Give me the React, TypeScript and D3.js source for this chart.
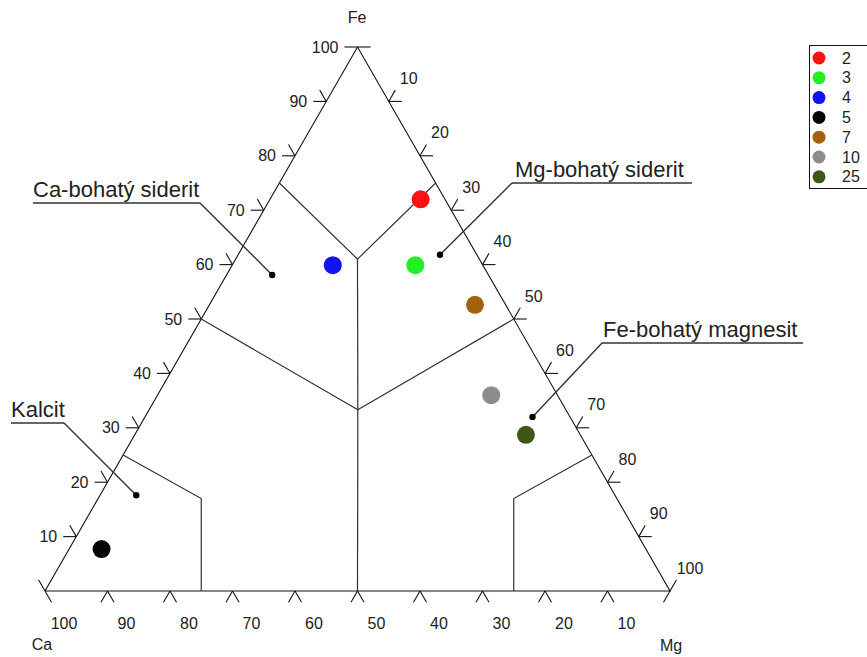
import * as d3 from 'd3';

// samples (legend labels) and their compositions in % (Ca, Fe, Mg)
const samples = ['2', '3', '4', '5', '7', '10', '25'];
const caValues = [3.9, 10.8, 24, 87.1, 4.9, 10.6, 8.7];
const feValues = [72, 59.9, 59.9, 7.7, 52.6, 36, 28.7];
const mgValues = [24.1, 29.3, 16.1, 5.2, 42.5, 53.4, 62.6];
const sampleColors = ['#ff1212', '#22f022', '#1212f0', '#050505', '#a3600f', '#8c8c8c', '#3f5714'];

const tickValues = [10, 20, 30, 40, 50, 60, 70, 80, 90, 100];

// field boundaries as polylines of [Ca, Fe, Mg]
const fieldLines: number[][][] = [
  [[33.3, 33.3, 33.4], [50, 50, 0]],
  [[33.3, 33.3, 33.4], [0, 50, 50]],
  [[33.3, 33.3, 33.4], [50, 0, 50]],
  [[33.3, 33.3, 33.4], [19.5, 61, 19.5]],
  [[25, 75, 0], [19.5, 61, 19.5], [0, 75, 25]],
  [[75, 25, 0], [66.5, 17, 16.5], [75, 0, 25]],
  [[0, 25, 75], [16.5, 17, 66.5], [25, 0, 75]],
];

// field names with the composition their leader points to
const fieldNames = ['Ca-bohatý siderit', 'Mg-bohatý siderit', 'Fe-bohatý magnesit', 'Kalcit'];
const fieldTargets = [[34.6, 58.1, 7.3], [5.9, 61.8, 32.3], [6, 32, 62], [76.6, 17.6, 5.8]];
// label placement: [text x, underline y, underline x1, underline x2, leader start x]
const fieldLabelPos = [
  [33, 203, 33, 200, 200],
  [515, 183, 512, 692, 512],
  [603, 343, 602, 803, 602],
  [11, 423, 11, 64, 64],
];

const width = 867;
const height = 657;
const tickLen = 13;

const xScale = d3.scaleLinear().domain([0, 100]).range([45, 670]);
const yScale = d3.scaleLinear().domain([0, 100]).range([591, 47]);
const project = (ca: number, fe: number, mg: number): [number, number] => [xScale(mg + fe / 2), yScale(fe)];

const line = d3.line<[number, number]>().x(d => d[0]).y(d => d[1]);

const S = Math.sqrt(3) / 2;

export default function App() {
  const tri = [project(100, 0, 0), project(0, 100, 0), project(0, 0, 100), project(100, 0, 0)];

  const ticks: { p: [number, number]; d: [number, number] }[] = [];
  tickValues.forEach(v => {
    ticks.push({ p: project(100 - v, v, 0), d: [-1, 0] });
    ticks.push({ p: project(0, v, 100 - v), d: [1, 0] });
    ticks.push({ p: project(0, 100 - v, v), d: [0.5, -S] });
    ticks.push({ p: project(100 - v, 0, v), d: [-0.5, S] });
    ticks.push({ p: project(v, 100 - v, 0), d: [-0.5, -S] });
    ticks.push({ p: project(v, 0, 100 - v), d: [0.5, S] });
  });

  const font = '"Liberation Sans", Arial, sans-serif';

  return (
    <div style={{ position: 'absolute', left: 0, top: 0 }}>
      <svg width={width} height={height} style={{ display: 'block', background: '#fff' }} fontFamily={font}>
        <path d={line(tri) ?? ''} fill="none" stroke="#111" strokeWidth={1.1} />
        {fieldLines.map((pl, i) => (
          <path key={'f' + i} d={line(pl.map(c => project(c[0], c[1], c[2]))) ?? ''} fill="none" stroke="#333" strokeWidth={1.2} />
        ))}
        {ticks.map((t, i) => (
          <line key={'t' + i} x1={t.p[0]} y1={t.p[1]} x2={t.p[0] + t.d[0] * tickLen} y2={t.p[1] + t.d[1] * tickLen} stroke="#111" strokeWidth={1.1} />
        ))}
        {tickValues.map(v => {
          const [x, y] = project(100 - v, v, 0);
          return <text key={'fe' + v} x={x - 19} y={y} dy="0.35em" textAnchor="end" fontSize={16} fill="#222">{v}</text>;
        })}
        {tickValues.map(v => {
          const [x, y] = project(0, 100 - v, v);
          return <text key={'mg' + v} x={x + 20} y={y - 23} dy="0.35em" textAnchor="middle" fontSize={16} fill="#222">{v}</text>;
        })}
        {tickValues.map(v => {
          const [x, y] = project(v, 0, 100 - v);
          return <text key={'ca' + v} x={x + 19} y={y + 32} dy="0.35em" textAnchor="middle" fontSize={16} fill="#222">{v}</text>;
        })}
        <text x={357} y={17} dy="0.35em" textAnchor="middle" fontSize={16} fill="#222">Fe</text>
        <text x={42} y={644} dy="0.35em" textAnchor="middle" fontSize={16} fill="#222">Ca</text>
        <text x={671} y={645} dy="0.35em" textAnchor="middle" fontSize={16} fill="#222">Mg</text>

        {fieldNames.map((name, i) => {
          const [tx, uy, ux1, ux2, lx] = fieldLabelPos[i];
          const [px, py] = project(fieldTargets[i][0], fieldTargets[i][1], fieldTargets[i][2]);
          return (
            <g key={'n' + i}>
              <text x={tx} y={uy - 6} fontSize={22} fill="#222">{name}</text>
              <line x1={ux1} y1={uy} x2={ux2} y2={uy} stroke="#333" strokeWidth={1.6} />
              <line x1={lx} y1={uy} x2={px} y2={py} stroke="#333" strokeWidth={1.4} />
              <circle cx={px} cy={py} r={3.2} fill="#000" />
            </g>
          );
        })}

        {samples.map((s, i) => {
          const [x, y] = project(caValues[i], feValues[i], mgValues[i]);
          return <circle key={'p' + s} cx={x} cy={y} r={9} fill={sampleColors[i]} />;
        })}

        <rect x={809.5} y={45.5} width={100} height={143} fill="none" stroke="#111" strokeWidth={1} />
        {samples.map((s, i) => (
          <g key={'l' + s} transform={`translate(0, ${58 + i * 19.8})`}>
            <circle cx={819} cy={0} r={6.5} fill={sampleColors[i]} />
            <text x={842} y={0} dy="0.35em" fontSize={16} fill="#222">{s}</text>
          </g>
        ))}
      </svg>
    </div>
  );
}
